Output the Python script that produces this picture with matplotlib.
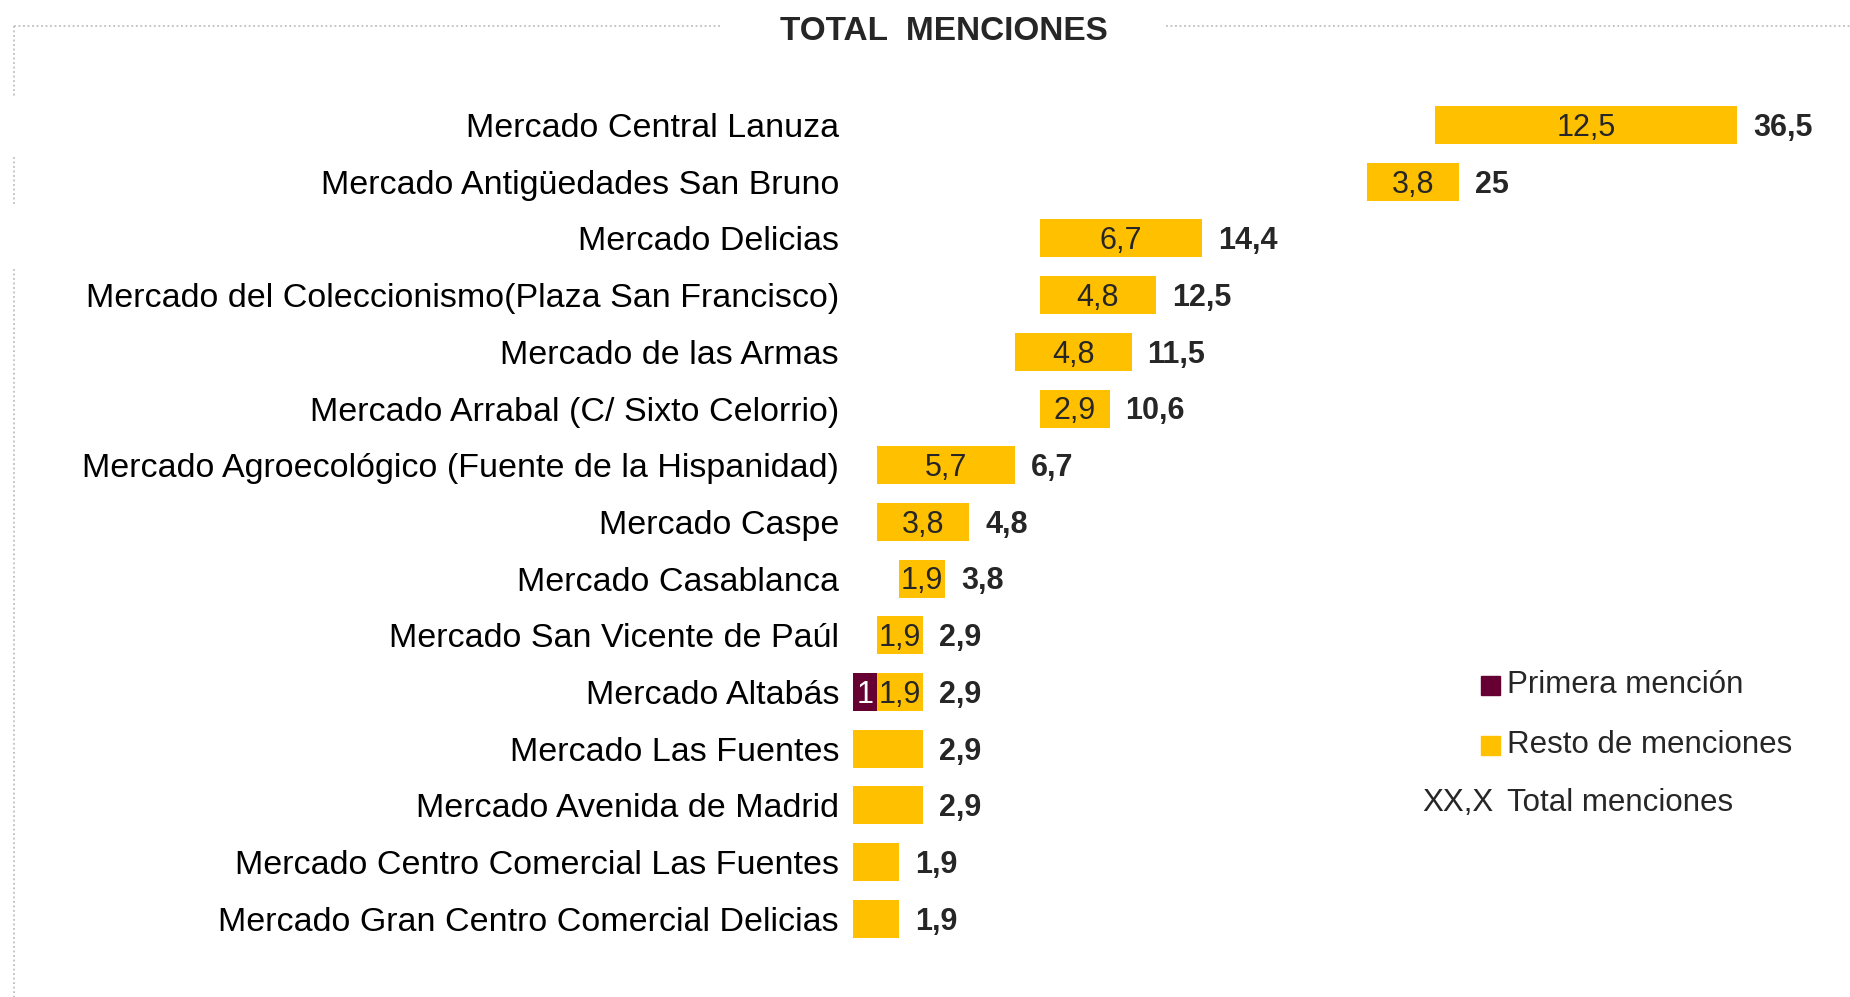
import matplotlib
matplotlib.use("Agg")
import matplotlib.pyplot as plt
from matplotlib.patches import Rectangle
from matplotlib.lines import Line2D

# data (top to bottom)
mercados = ["Mercado Central Lanuza", "Mercado Antigüedades San Bruno", "Mercado Delicias",
            "Mercado del Coleccionismo(Plaza San Francisco)", "Mercado de las Armas",
            "Mercado Arrabal (C/ Sixto Celorrio)", "Mercado Agroecológico (Fuente de la Hispanidad)",
            "Mercado Caspe", "Mercado Casablanca", "Mercado San Vicente de Paúl", "Mercado Altabás",
            "Mercado Las Fuentes", "Mercado Avenida de Madrid",
            "Mercado Centro Comercial Las Fuentes", "Mercado Gran Centro Comercial Delicias"]
primera = [24.0, 21.2, 7.7, 7.7, 6.7, 7.7, 1.0, 1.0, 1.9, 1.0, 1.0, 0, 0, 0, 0]
resto = [12.5, 3.8, 6.7, 4.8, 4.8, 2.9, 5.7, 3.8, 1.9, 1.9, 1.9, 2.9, 2.9, 1.9, 1.9]
total = [36.5, 25, 14.4, 12.5, 11.5, 10.6, 6.7, 4.8, 3.8, 2.9, 2.9, 2.9, 2.9, 1.9, 1.9]
resto_labels = ["12,5", "3,8", "6,7", "4,8", "4,8", "2,9", "5,7", "3,8", "1,9", "1,9", "1,9",
                "", "", "", ""]
primera_labels = ["", "", "", "", "", "", "", "", "", "", "1", "", "", "", ""]

AMARILLO = "#FFC000"
GRANATE = "#660033"
FONT = ["Liberation Sans Narrow", "Liberation Sans", "DejaVu Sans"]
plt.rcParams["font.family"] = FONT

fig = plt.figure(figsize=(18.5, 9.97), dpi=100)
ax = fig.add_axes([853 / 1850, 0.05, 1 - 853 / 1850 - 0.015, 0.853])

y = list(range(len(mercados)))
# primera mencion only shows where it has a label (Altabás), the rest is blank in the original
prim_colors = [GRANATE if lab else "white" for lab in primera_labels]
ax.barh(y, primera, height=0.67, color=prim_colors)
ax.barh(y, resto, left=primera, height=0.67, color=AMARILLO)

for i in y:
    if primera_labels[i]:
        ax.text(primera[i] / 2, i + 0.05, primera_labels[i], ha="center", va="center",
                fontsize=22, color="white")
    if resto_labels[i]:
        ax.text(primera[i] + resto[i] / 2, i + 0.05, resto_labels[i], ha="center", va="center",
                fontsize=22, color="#262626")
    ax.text(total[i] + 0.65, i + 0.05, str(total[i]).replace(".", ","), ha="left", va="center",
            fontsize=22, fontweight="bold", color="#262626")

ax.set_xlim(0, 40)
ax.set_ylim(len(mercados) - 0.5, -0.5)
ax.set_yticks(y)
ax.set_yticklabels(mercados, fontsize=24.5, color="black")
ax.tick_params(axis="y", length=0, pad=10)
ax.set_xticks([])
for s in ax.spines.values():
    s.set_visible(False)

# title and dotted frame
fig.text(944 / 1850, 1 - 32 / 997, "TOTAL  MENCIONES", ha="center", va="center",
         fontsize=24, fontweight="bold", color="#262626")
dot = dict(color="#BFBFBF", linestyle=(0, (1, 1.5)), linewidth=1.3, transform=fig.transFigure)
fig.add_artist(Line2D([14 / 1850, 722 / 1850], [1 - 26 / 997, 1 - 26 / 997], **dot))
fig.add_artist(Line2D([1166 / 1850, 1.0], [1 - 26 / 997, 1 - 26 / 997], **dot))
for y0, y1 in [(26, 97), (157, 205), (269, 997)]:
    fig.add_artist(Line2D([14 / 1850, 14 / 1850], [1 - y0 / 997, 1 - y1 / 997], **dot))

# legend
for yy, col, txt in [(685, GRANATE, "Primera mención"), (745, AMARILLO, "Resto de menciones")]:
    fig.add_artist(Rectangle((1481 / 1850, 1 - (yy + 10) / 997), 19 / 1850, 19 / 997,
                             color=col, transform=fig.transFigure))
    fig.text(1507 / 1850, 1 - yy / 997, txt, ha="left", va="center", fontsize=22.5, color="#262626")
fig.text(1494 / 1850, 1 - 803 / 997, "XX,X", ha="right", va="center", fontsize=22.5, color="#262626")
fig.text(1507 / 1850, 1 - 803 / 997, "Total menciones", ha="left", va="center", fontsize=22.5,
         color="#262626")

fig.savefig("out.png", dpi=100)
